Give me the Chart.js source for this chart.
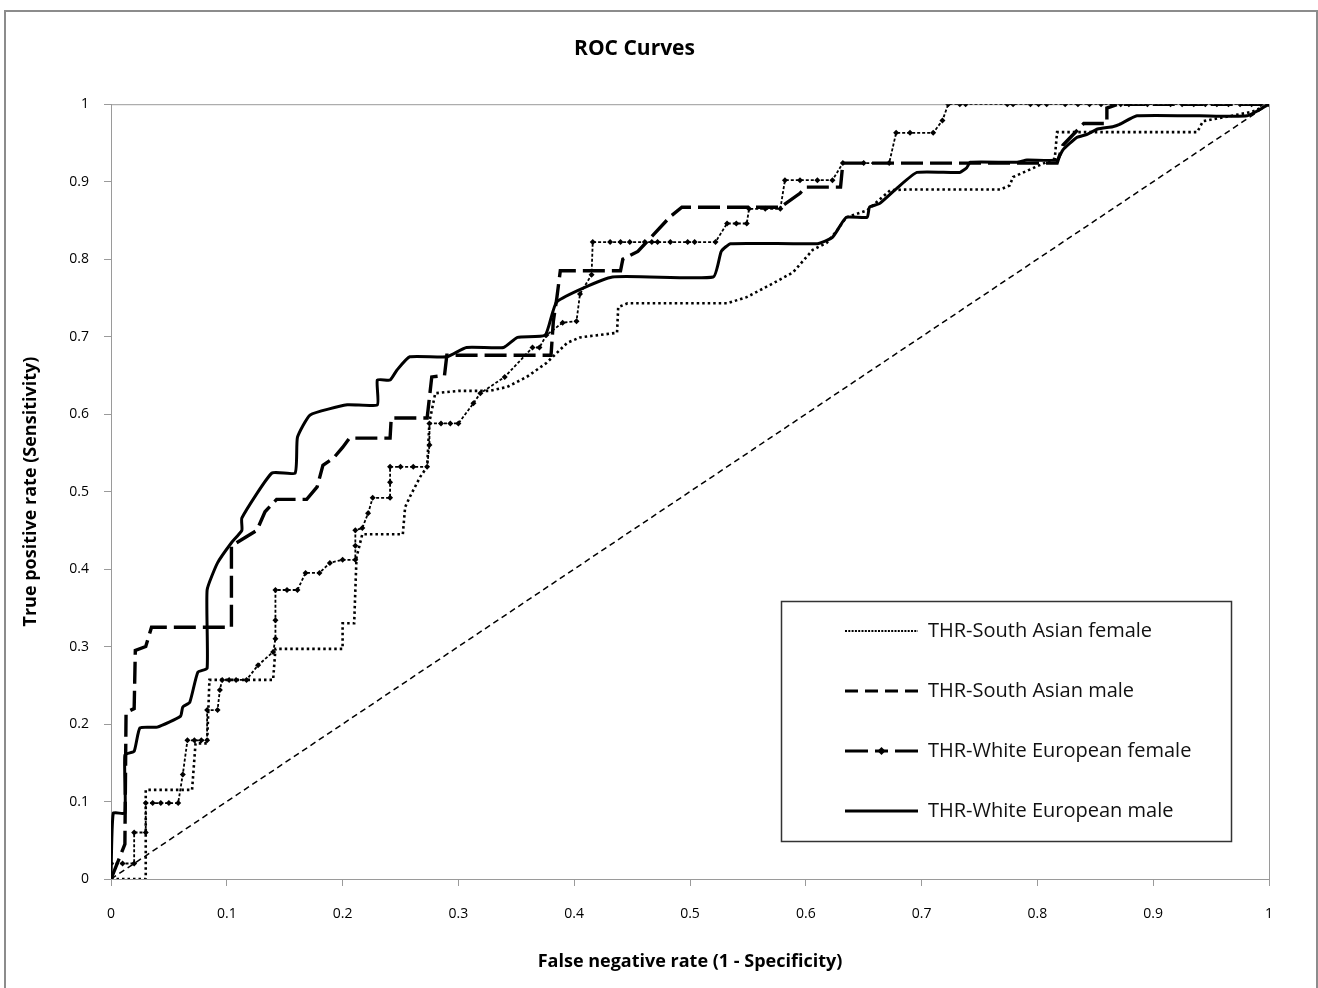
<!DOCTYPE html>
<html lang="en">
<head>
  <meta charset="UTF-8">
  <title>ROC Curves</title>
  <script src="https://cdn.jsdelivr.net/npm/chart.js"></script>
  <style>
    html, body { margin: 0; padding: 0; background: #fff; }
    #wrap { position: relative; width: 1318px; height: 988px; }
  </style>
</head>
<body>
  <div id="wrap"><canvas id="roc"></canvas></div>
  <script>
    // ROC points [1 - specificity, sensitivity]
    const southAsianFemale = [
      [0,0],[0.03,0],[0.03,0.115],[0.07,0.115],[0.073,0.175],[0.083,0.175],[0.085,0.257],
      [0.14,0.257],[0.142,0.297],[0.2,0.297],[0.2,0.33],[0.21,0.33],[0.212,0.415],[0.217,0.445],
      [0.252,0.445],[0.254,0.48],[0.258,0.493],[0.267,0.519],[0.273,0.532],[0.275,0.59],
      [0.28,0.627],[0.3,0.63],[0.327,0.63],[0.342,0.635],[0.359,0.648],[0.376,0.666],
      [0.394,0.692],[0.405,0.699],[0.437,0.705],[0.438,0.738],[0.446,0.743],[0.532,0.743],
      [0.549,0.751],[0.572,0.769],[0.589,0.783],[0.606,0.812],[0.618,0.821],[0.627,0.837],
      [0.635,0.854],[0.653,0.863],[0.673,0.889],[0.69,0.89],[0.768,0.89],[0.776,0.895],
      [0.779,0.906],[0.8,0.92],[0.815,0.93],[0.817,0.964],[0.938,0.964],[0.943,0.978],
      [0.985,0.99],[1,1]
    ];
    const southAsianMale = [
      [0,0],[0,0.02],[0.01,0.02],[0.02,0.02],[0.02,0.06],[0.03,0.06],[0.03,0.098],[0.036,0.098],
      [0.043,0.098],[0.05,0.098],[0.058,0.098],[0.062,0.135],[0.066,0.179],[0.072,0.179],
      [0.078,0.179],[0.083,0.179],[0.083,0.218],[0.092,0.218],[0.094,0.244],[0.096,0.257],
      [0.102,0.257],[0.108,0.257],[0.117,0.257],[0.127,0.276],[0.14,0.293],[0.142,0.31],
      [0.142,0.334],[0.142,0.373],[0.152,0.373],[0.161,0.373],[0.168,0.395],[0.18,0.395],
      [0.189,0.408],[0.2,0.412],[0.211,0.412],[0.211,0.43],[0.211,0.45],[0.217,0.453],
      [0.222,0.472],[0.226,0.492],[0.241,0.492],[0.241,0.512],[0.241,0.532],[0.25,0.532],
      [0.261,0.532],[0.273,0.532],[0.275,0.56],[0.275,0.588],[0.285,0.588],[0.293,0.588],
      [0.3,0.588],[0.313,0.614],[0.319,0.627],[0.34,0.648],[0.364,0.686],[0.37,0.686],
      [0.376,0.702],[0.39,0.718],[0.402,0.72],[0.405,0.755],[0.415,0.78],[0.416,0.822],
      [0.431,0.822],[0.44,0.822],[0.448,0.822],[0.461,0.822],[0.467,0.822],[0.472,0.822],
      [0.483,0.822],[0.498,0.822],[0.504,0.822],[0.522,0.822],[0.532,0.846],[0.54,0.846],
      [0.549,0.846],[0.551,0.865],[0.565,0.865],[0.578,0.865],[0.582,0.902],[0.595,0.902],
      [0.61,0.902],[0.623,0.902],[0.632,0.924],[0.65,0.924],[0.672,0.924],[0.678,0.963],
      [0.69,0.963],[0.71,0.963],[0.718,0.979],[0.723,1],[0.733,1],[0.738,1],[0.774,1],
      [0.779,1],[0.794,1],[0.801,1],[0.808,1],[0.824,1],[0.835,1],[0.845,1],[0.855,1],
      [0.865,1],[0.872,1],[0.879,1],[0.895,1],[0.915,1],[0.925,1],[0.935,1],[0.945,1],
      [0.955,1],[0.965,1],[0.975,1],[0.985,1],[0.993,1],[1,1]
    ];
    const whiteEuropeanFemale = [
      [0,0],[0.012,0.045],[0.013,0.215],[0.02,0.22],[0.021,0.295],[0.03,0.3],[0.035,0.325],
      [0.104,0.325],[0.104,0.43],[0.126,0.45],[0.133,0.474],[0.143,0.49],[0.169,0.49],
      [0.178,0.506],[0.183,0.534],[0.192,0.543],[0.2,0.557],[0.206,0.569],[0.241,0.569],
      [0.242,0.595],[0.273,0.595],[0.277,0.648],[0.288,0.65],[0.29,0.676],[0.38,0.676],
      [0.382,0.72],[0.385,0.75],[0.388,0.785],[0.44,0.785],[0.442,0.8],[0.455,0.81],
      [0.483,0.855],[0.493,0.867],[0.578,0.867],[0.595,0.885],[0.6,0.893],[0.63,0.893],
      [0.632,0.924],[0.756,0.924],[0.817,0.924],[0.82,0.938],[0.822,0.947],[0.84,0.975],
      [0.86,0.975],[0.86,0.995],[0.87,1],[1,1]
    ];
    const whiteEuropeanMale = [
      [0,0],[0.002,0.085],[0.012,0.085],[0.012,0.16],[0.02,0.165],[0.025,0.195],[0.04,0.196],
      [0.06,0.21],[0.062,0.222],[0.068,0.228],[0.075,0.267],[0.083,0.272],[0.083,0.373],
      [0.092,0.408],[0.104,0.434],[0.113,0.45],[0.113,0.466],[0.139,0.524],[0.159,0.524],
      [0.161,0.57],[0.172,0.599],[0.204,0.612],[0.23,0.612],[0.23,0.644],[0.241,0.644],
      [0.247,0.657],[0.258,0.674],[0.29,0.674],[0.307,0.686],[0.339,0.686],[0.351,0.699],
      [0.375,0.702],[0.385,0.745],[0.433,0.777],[0.52,0.777],[0.527,0.81],[0.535,0.82],
      [0.61,0.82],[0.623,0.828],[0.635,0.854],[0.653,0.854],[0.655,0.867],[0.664,0.872],
      [0.679,0.892],[0.696,0.912],[0.733,0.912],[0.739,0.918],[0.742,0.925],[0.782,0.925],
      [0.791,0.928],[0.817,0.928],[0.822,0.941],[0.834,0.957],[0.843,0.961],[0.852,0.968],
      [0.865,0.971],[0.871,0.974],[0.886,0.985],[0.94,0.985],[0.981,0.985],[1,1]
    ];
    const chanceLine = [[0,0],[1,1]];

    const seriesNames = ['THR-South Asian female', 'THR-South Asian male',
      'THR-White European female', 'THR-White European male'];

    const FONT = "'Open Sans', 'Liberation Sans', sans-serif";
    const AXIS_GREY = '#9a9a9a';
    const toXY = pts => pts.map(p => ({ x: p[0], y: p[1] }));
    // Excel style tick text: 0, 0.1 ... 0.9, 1
    const tickText = v => String(Number(v.toFixed(1)));

    // white background + outer frame of the figure
    const figureFrame = {
      id: 'figureFrame',
      beforeDraw(chart) {
        const ctx = chart.ctx;
        ctx.save();
        ctx.fillStyle = '#fff';
        ctx.fillRect(0, 0, chart.width, chart.height);
        ctx.strokeStyle = '#8c8c8c';
        ctx.lineWidth = 2;
        ctx.strokeRect(5, 11, chart.width - 6, chart.height - 10);
        ctx.restore();
      },
      beforeDatasetsDraw(chart) {
        const { ctx, chartArea: a } = chart;
        ctx.save();
        ctx.strokeStyle = AXIS_GREY;
        ctx.lineWidth = 1;
        ctx.strokeRect(a.left + 0.5, a.top + 0.5, a.right - a.left, a.bottom - a.top);
        ctx.restore();
      }
    };

    // boxed legend in the lower right, with line samples like the original
    const boxedLegend = {
      id: 'boxedLegend',
      afterDraw(chart) {
        const ctx = chart.ctx;
        const bx = 781, by = 601, bw = 450, bh = 240;
        ctx.save();
        ctx.fillStyle = '#fff';
        ctx.fillRect(bx, by, bw, bh);
        ctx.strokeStyle = '#333';
        ctx.lineWidth = 1.5;
        ctx.strokeRect(bx + 0.5, by + 0.5, bw, bh);
        const x0 = 845, x1 = 918;
        seriesNames.forEach((name, i) => {
          const y = 631 + i * 60;
          ctx.strokeStyle = '#000';
          ctx.beginPath();
          if (i === 0) {
            ctx.lineWidth = 2;
            ctx.setLineDash([2, 1.3]);
            ctx.moveTo(x0, y); ctx.lineTo(x1, y);
          } else if (i === 1) {
            ctx.lineWidth = 3;
            ctx.setLineDash([13, 7]);
            ctx.moveTo(x0, y); ctx.lineTo(x1, y);
          } else if (i === 2) {
            ctx.lineWidth = 3;
            ctx.setLineDash([]);
            ctx.moveTo(x0, y); ctx.lineTo(x0 + 23, y);
            ctx.moveTo(x1 - 23, y); ctx.lineTo(x1, y);
            ctx.moveTo(x0 + 30, y); ctx.lineTo(x1 - 30, y);
          } else {
            ctx.lineWidth = 3;
            ctx.setLineDash([]);
            ctx.moveTo(x0, y); ctx.lineTo(x1, y);
          }
          ctx.stroke();
          if (i === 2) {
            const cx = (x0 + x1) / 2;
            ctx.fillStyle = '#000';
            ctx.beginPath();
            ctx.moveTo(cx, y - 4); ctx.lineTo(cx + 4, y); ctx.lineTo(cx, y + 4); ctx.lineTo(cx - 4, y);
            ctx.closePath();
            ctx.fill();
          }
          ctx.setLineDash([]);
          ctx.fillStyle = '#111';
          ctx.font = '20px ' + FONT;
          ctx.textBaseline = 'middle';
          ctx.textAlign = 'left';
          ctx.fillText(name, 928, y);
        });
        ctx.restore();
      }
    };

    const ctx = document.getElementById('roc').getContext('2d');
    new Chart(ctx, {
      type: 'scatter',
      data: {
        datasets: [
          {
            label: seriesNames[0],
            data: toXY(southAsianFemale),
            showLine: true,
            borderColor: '#000',
            borderWidth: 2.6,
            borderDash: [2.5, 3],
            pointRadius: 0,
            tension: 0
          },
          {
            label: seriesNames[1],
            data: toXY(southAsianMale),
            showLine: true,
            borderColor: '#000',
            backgroundColor: '#000',
            borderWidth: 1.8,
            borderDash: [3, 2],
            pointStyle: 'rectRot',
            pointRadius: 3,
            pointBorderWidth: 0,
            tension: 0
          },
          {
            label: seriesNames[2],
            data: toXY(whiteEuropeanFemale),
            showLine: true,
            borderColor: '#000',
            borderWidth: 3.4,
            borderDash: [22, 7],
            pointRadius: 0,
            tension: 0
          },
          {
            label: seriesNames[3],
            data: toXY(whiteEuropeanMale),
            showLine: true,
            borderColor: '#000',
            borderWidth: 3,
            pointRadius: 0,
            tension: 0.15
          },
          {
            label: 'chance',
            data: toXY(chanceLine),
            showLine: true,
            borderColor: '#000',
            borderWidth: 1.5,
            borderDash: [6, 4],
            pointRadius: 0
          }
        ]
      },
      options: {
        responsive: true,
        maintainAspectRatio: false,
        animation: false,
        layout: { padding: { left: 0, right: 49, top: 0, bottom: 0 } },
        scales: {
          x: {
            type: 'linear',
            min: 0,
            max: 1,
            ticks: { stepSize: 0.1, padding: 20, color: '#000', font: { family: FONT, size: 14 }, callback: tickText },
            grid: { drawOnChartArea: false, tickLength: 7, color: AXIS_GREY },
            border: { color: AXIS_GREY },
            title: {
              display: true,
              text: 'False negative rate (1 - Specificity)',
              color: '#000',
              font: { family: FONT, size: 18, weight: 'bold' },
              padding: { top: 0, bottom: 15 }
            },
            afterFit(scale) { scale.height = 109; }
          },
          y: {
            type: 'linear',
            min: 0,
            max: 1,
            ticks: { stepSize: 0.1, padding: 15, color: '#000', font: { family: FONT, size: 14 }, callback: tickText },
            grid: { drawOnChartArea: false, tickLength: 7, color: AXIS_GREY },
            border: { color: AXIS_GREY },
            title: {
              display: true,
              text: 'True positive rate (Sensitivity)',
              color: '#000',
              font: { family: FONT, size: 18, weight: 'bold' },
              padding: { top: 20, bottom: 0 }
            },
            afterFit(scale) { scale.width = 111; }
          }
        },
        plugins: {
          legend: { display: false },
          tooltip: { enabled: false },
          title: {
            display: true,
            text: 'ROC Curves',
            color: '#000',
            font: { family: FONT, size: 21, weight: 'bold' },
            padding: { top: 36, bottom: 43 }
          }
        }
      },
      plugins: [figureFrame, boxedLegend]
    });
  </script>
</body>
</html>
